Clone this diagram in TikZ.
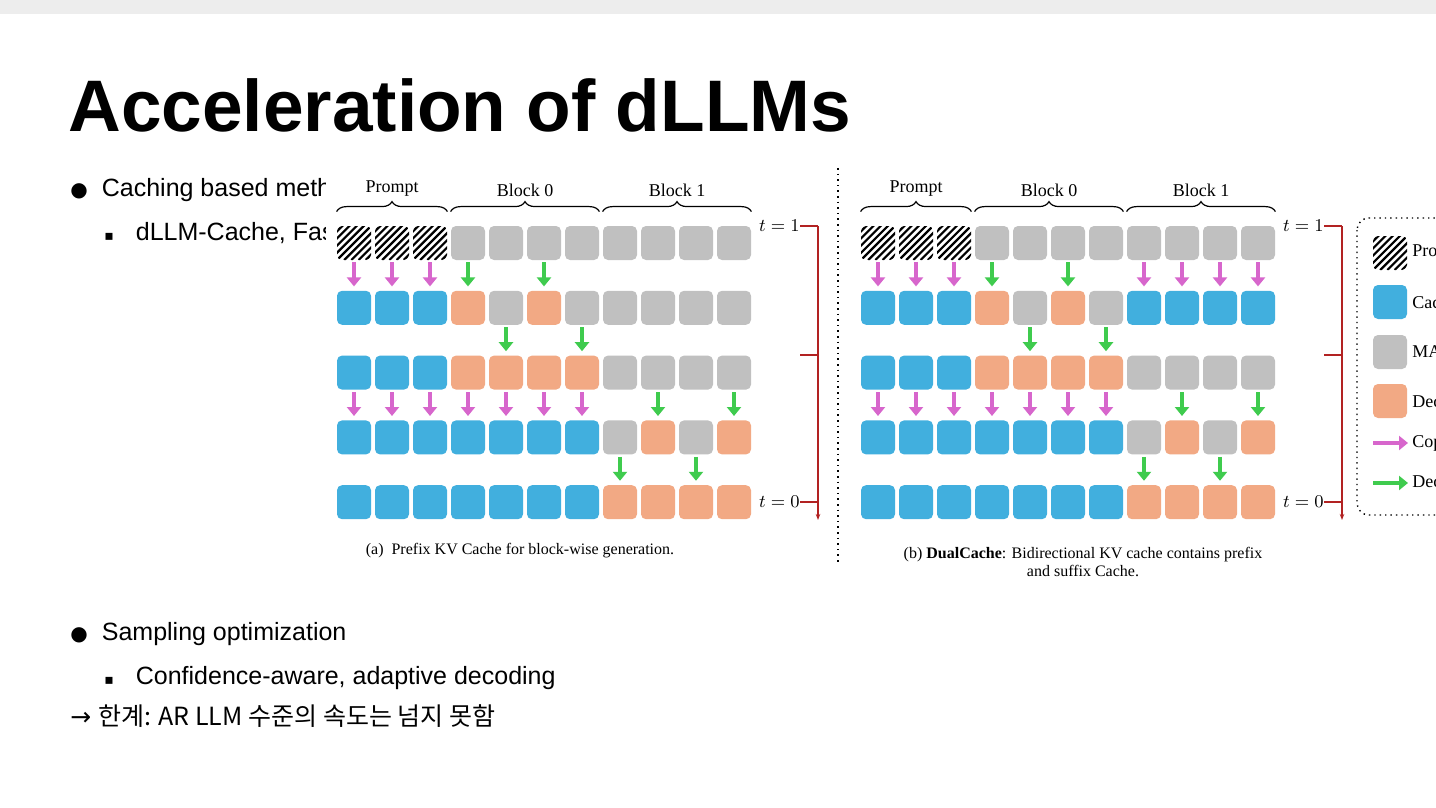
\documentclass[tikz,border=0pt]{standalone}
\usepackage{fontspec}
\setmainfont{Liberation Sans}
\newfontfamily\figfont{Liberation Serif}
\newfontfamily\krfont{Noto Sans CJK KR}
\newfontfamily\symfont{DejaVu Sans}
\usetikzlibrary{arrows.meta,positioning,decorations.pathreplacing}
\definecolor{cacheblue}{HTML}{41AFDE}
\definecolor{maskgray}{HTML}{C0C0C0}
\definecolor{decorange}{HTML}{F2A984}
\definecolor{copypink}{HTML}{D766CC}
\definecolor{decgreen}{HTML}{3FCB4E}
\definecolor{tred}{HTML}{B22222}

\begin{document}
\begin{tikzpicture}[
  x=0.5pt, y=-0.5pt,
  cell/.style={rounded corners=2.5pt, minimum size=17pt, inner sep=0pt},
  cellP/.style={cell, fill=white, path picture={
      \foreach \i in {-5,...,5}
        \draw[line width=1.1pt] ([xshift=\i*3.6pt]path picture bounding box.south west) -- ++(22pt,22pt);}},
  cellC/.style={cell, fill=cacheblue},
  cellG/.style={cell, fill=maskgray},
  cellO/.style={cell, fill=decorange},
  arrP/.style={-{Triangle[length=4.5pt,width=7pt]}, line width=1.6pt, copypink},
  arrG/.style={-{Triangle[length=4.5pt,width=7pt]}, line width=1.6pt, decgreen},
  brc/.style={decorate, decoration={brace, amplitude=5pt}, line width=0.6pt},
  lbl/.style={font=\figfont\fontsize{9}{10}\selectfont},
  tline/.style={tred, line width=0.7pt}
]
\useasboundingbox (0,0) rectangle (1436,808);
\clip (0,0) rectangle (1436,808);
\fill[white] (0,0) rectangle (1436,808);
\fill[black!7] (0,0) rectangle (1436,14);

% slide text
\node[anchor=base west, inner sep=0pt, font=\bfseries\fontsize{36.5}{40}\selectfont] (title) at (68,132) {Acceleration of dLLMs};
\node[anchor=base west, inner sep=0pt, font=\fontsize{12.5}{14}\selectfont] (b1) at (70,197) {{\symfont\fontsize{10}{12}\selectfont ●}\hspace{7pt}Caching based methods};
\node[anchor=base west, inner sep=0pt, font=\fontsize{12.5}{14}\selectfont] (b1a) at (104,241) {{\symfont\fontsize{7}{8}\selectfont ▪}\hspace{11pt}dLLM-Cache, Fast-dLLM};
\node[anchor=base west, inner sep=0pt, font=\fontsize{12.5}{14}\selectfont] (b2) at (70,640) {{\symfont\fontsize{10}{12}\selectfont ●}\hspace{7pt}Sampling optimization};
\node[anchor=base west, inner sep=0pt, font=\fontsize{12.5}{14}\selectfont] (b2a) at (104,684) {{\symfont\fontsize{7}{8}\selectfont ▪}\hspace{11pt}Confidence-aware, adaptive decoding};
\node[anchor=base west, inner sep=0pt, font=\fontsize{12.5}{14}\selectfont] (note) at (70,725) {{\symfont →} {\krfont 한계: AR LLM 수준의 속도는 넘지 못함}};

% figure background
\fill[white] (326,166) rectangle (1436,592);

% grids
\foreach \side/\dx/\rowone in {a/0/{C,C,C,O,G,O,G,G,G,G,G}, b/524/{C,C,C,O,G,O,G,C,C,C,C}} {
  \foreach \r/\row in {0/{P,P,P,G,G,G,G,G,G,G,G}, 1/\rowone, 2/{C,C,C,O,O,O,O,G,G,G,G},
                      3/{C,C,C,C,C,C,C,G,O,G,O}, 4/{C,C,C,C,C,C,C,O,O,O,O}} {
    \edef\rowlist{\row}
    \foreach \k [count=\c from 0] in \rowlist
      \node[cell\k] (\side\r-\c) at (354+\dx+38*\c, 243+64.8*\r) {};
  }
  % braces and labels
  \draw[brc] ([yshift=7pt]\side0-0.north west) -- node[lbl, above=4pt] {Prompt} ([yshift=7pt]\side0-2.north east);
  \draw[brc] ([yshift=7pt]\side0-3.north west) -- node[lbl, above=4pt] {Block 0} ([yshift=7pt]\side0-6.north east);
  \draw[brc] ([yshift=7pt]\side0-7.north west) -- node[lbl, above=4pt] {Block 1} ([yshift=7pt]\side0-10.north east);
  % timeline
  \node[lbl, anchor=east, inner sep=0pt] (\side t1) at (800+\dx,226) {$t=1$};
  \node[lbl, anchor=east, inner sep=0pt] (\side t0) at (800+\dx,502) {$t=0$};
  \coordinate (\side top) at (818+\dx,226);
  \coordinate (\side end) at (818+\dx,520);
  \draw[tline] (\side t1.east) -- (\side top);
  \draw[tline, -{Stealth[length=3pt]}] (\side top) -- (\side end);
  \draw[tline] (800+\dx,355) -- (818+\dx,355);
  \draw[tline] (\side t0.east) -- (818+\dx,502);
}

% arrows
\foreach \s/\t/\c in {0/1/0,0/1/1,0/1/2,2/3/0,2/3/1,2/3/2,2/3/3,2/3/4,2/3/5,2/3/6} {
  \draw[arrP] ([yshift=-1pt]a\s-\c.south) -- ([yshift=2pt]a\t-\c.north);
}
\foreach \s/\t/\c in {0/1/0,0/1/1,0/1/2,2/3/0,2/3/1,2/3/2,2/3/3,2/3/4,2/3/5,2/3/6,
                      0/1/7,0/1/8,0/1/9,0/1/10} {
  \draw[arrP] ([yshift=-1pt]b\s-\c.south) -- ([yshift=2pt]b\t-\c.north);
}
\foreach \s/\t/\c in {0/1/3,0/1/5,1/2/4,1/2/6,2/3/8,2/3/10,3/4/7,3/4/9} {
  \draw[arrG] ([yshift=-1pt]a\s-\c.south) -- ([yshift=2pt]a\t-\c.north);
  \draw[arrG] ([yshift=-1pt]b\s-\c.south) -- ([yshift=2pt]b\t-\c.north);
}

% divider
\draw[dotted, line width=0.8pt] (838,168) -- (838,565);

% captions
\node[lbl, font=\figfont\fontsize{8}{9}\selectfont] (capa) at (520,551) {(a)\ \ Prefix KV Cache for block-wise generation.};
\node[lbl, font=\figfont\fontsize{8}{9}\selectfont, align=center] (capb) at (1083,562)
  {(b) \textbf{DualCache}: Bidirectional KV cache contains prefix\\and suffix Cache.};

% legend
\draw[dotted, line width=0.7pt, rounded corners=6pt] (1357,218) rectangle (1480,515);
\node[cellP] (legP) at (1390,253) {};
\node[cellC] (legC) at (1390,302) {};
\node[cellG] (legG) at (1390,352) {};
\node[cellO] (legO) at (1390,401) {};
\coordinate (legp1) at (1373,443); \coordinate (legp2) at (1408,443);
\coordinate (legg1) at (1373,483); \coordinate (legg2) at (1408,483);
\draw[arrP] (legp1) -- (legp2);
\draw[arrG] (legg1) -- (legg2);
\foreach \n/\y/\txt in {P/253/Prompt, C/302/Cached, G/352/MASK, O/401/Decoded, p/443/Copy Cache, g/483/Decoding} {
  \node[lbl, anchor=west, inner sep=0pt] at (1412,\y) {\txt};
}
\end{tikzpicture}
\end{document}
